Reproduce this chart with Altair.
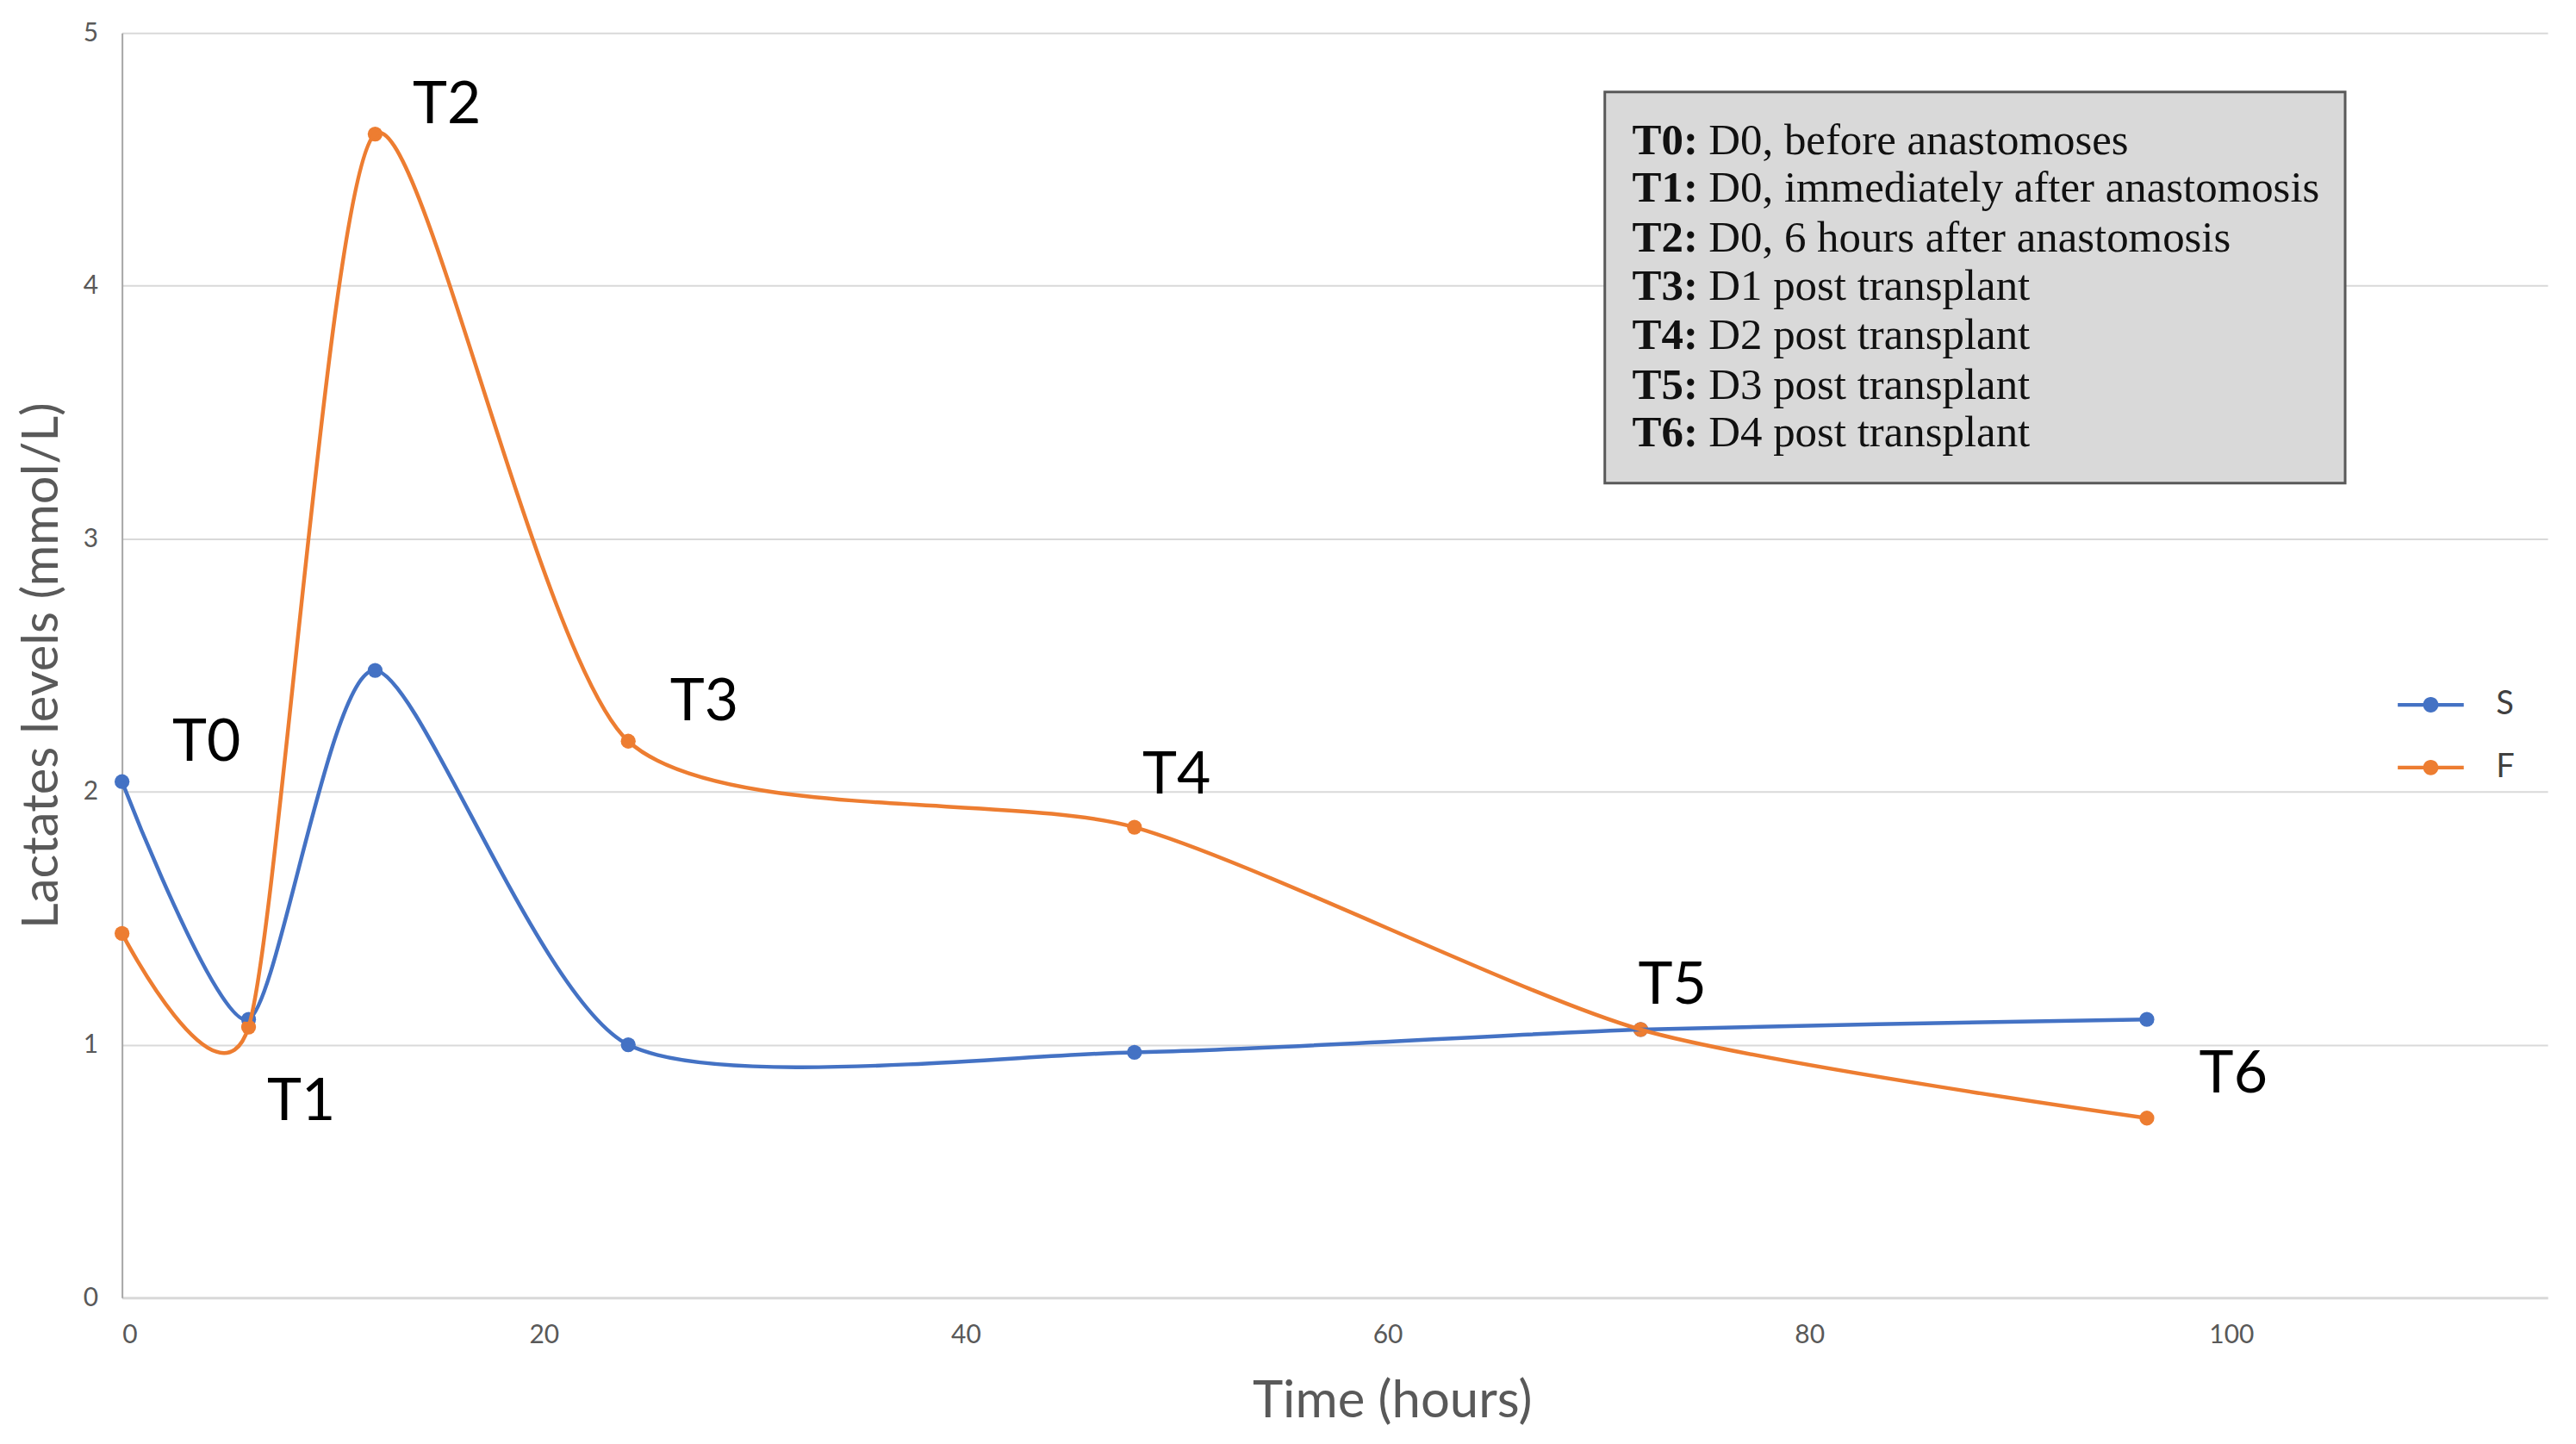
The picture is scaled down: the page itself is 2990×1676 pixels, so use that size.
import altair as alt
import pandas as pd

# ---- data ----
hours = [0, 6, 12, 24, 48, 72, 96]
s_vals = [2.04, 1.10, 2.48, 1.00, 0.97, 1.06, 1.10]
f_vals = [1.44, 1.07, 4.60, 2.20, 1.86, 1.06, 0.71]
series_names = ["S", "F"]
series_colors = ["#4472C4", "#ED7D31"]

x_ticks = [0, 20, 40, 60, 80, 100]
y_ticks = [0, 1, 2, 3, 4, 5]

# point annotations (T0..T6)
ann_text = ["T0", "T1", "T2", "T3", "T4", "T5", "T6"]
ann_x = [4.0, 8.5, 15.4, 27.6, 50.0, 73.5, 100.1]
ann_y = [2.19, 0.77, 4.71, 2.35, 2.06, 1.23, 0.88]

# text box contents
box_prefix = ["T0:", "T1:", "T2:", "T3:", "T4:", "T5:", "T6:"]
box_rest = [
    "D0, before anastomoses",
    "D0, immediately after anastomosis",
    "D0, 6 hours after anastomosis",
    "D1 post transplant",
    "D2 post transplant",
    "D3 post transplant",
    "D4 post transplant",
]
box_line_y = [4.570, 4.383, 4.186, 3.996, 3.802, 3.605, 3.418]
box_text_x = 71.6
box_x = [70.3, 105.4]
box_y = [3.22, 4.766]

# ---- tables ----
df = pd.DataFrame({
    "hours": hours * 2,
    "value": s_vals + f_vals,
    "series": [series_names[0]] * len(hours) + [series_names[1]] * len(hours),
})
ann_df = pd.DataFrame({"hours": ann_x, "value": ann_y, "label": ann_text})
box_df = pd.DataFrame({"hours": [box_x[0]], "hours2": [box_x[1]],
                       "value": [box_y[0]], "value2": [box_y[1]]})
txt_df = pd.DataFrame({"hours": [box_text_x] * len(box_prefix), "value": box_line_y,
                       "prefix": box_prefix, "rest": box_rest})

x_scale = alt.Scale(domain=[0, 115], nice=False, zero=False)
y_scale = alt.Scale(domain=[0, 5], nice=False)

x_axis = alt.Axis(values=x_ticks, title="Time (hours)", grid=False, tickSize=0,
                  labelPadding=28, titlePadding=34, titleX=1478, titleAlign="center",
                  titleFontSize=60, domainColor="#d9d9d9", domainWidth=3)
y_axis = alt.Axis(values=y_ticks, title="Lactates levels (mmol/L)", grid=True, tickSize=0,
                  labelPadding=28, titlePadding=18, titleFontSize=58,
                  domainColor="#a6a6a6", domainWidth=2,
                  gridColor="#d9d9d9", gridWidth=2)


def X():
    return alt.X("hours:Q", scale=x_scale, axis=x_axis, title="Time (hours)")


def Y():
    return alt.Y("value:Q", scale=y_scale, axis=y_axis, title="Lactates levels (mmol/L)")


color_scale = alt.Scale(domain=series_names, range=series_colors)

legend_path = ("M -1.2 -0.065 L 1.2 -0.065 L 1.2 0.065 L -1.2 0.065 Z "
               "M 0.28 0 A 0.28 0.28 0 1 1 -0.28 0 A 0.28 0.28 0 1 1 0.28 0 Z")

legend = alt.Legend(
    orient="none", legendX=2655, legendY=750, title=None,
    symbolType=legend_path, symbolSize=4096, symbolStrokeWidth=0,
    labelFont="Lato", labelFontSize=38, labelColor="#404040",
    labelOffset=44, rowPadding=22, padding=0,
)

lines = alt.Chart(df).mark_line(interpolate="cardinal", tension=0.3, strokeWidth=4.5).encode(
    x=X(), y=Y(),
    color=alt.Color("series:N", scale=color_scale, sort=series_names))

points = alt.Chart(df).mark_point(filled=True, size=300, opacity=1).encode(
    x=X(), y=Y(),
    color=alt.Color("series:N", scale=color_scale, sort=series_names, legend=legend))

box = alt.Chart(box_df).mark_rect(fill="#d9d9d9", stroke="#595959", strokeWidth=3).encode(
    x=X(), x2="hours2:Q", y=Y(), y2="value2:Q")

ann = alt.Chart(ann_df).mark_text(font="Lato", fontSize=68, color="#000000",
                                  align="center", baseline="middle").encode(
    x=X(), y=Y(), text="label:N")

pref = alt.Chart(txt_df).mark_text(font="Liberation Serif", fontSize=51, fontWeight="bold",
                                   color="#111111", align="left", baseline="middle").encode(
    x=X(), y=Y(), text="prefix:N")

rest = alt.Chart(txt_df).mark_text(font="Liberation Serif", fontSize=51, color="#111111",
                                   align="left", baseline="middle", dx=89).encode(
    x=X(), y=Y(), text="rest:N")

chart = alt.layer(points, lines, box, ann, pref, rest).properties(
    width=2823, height=1472,
    autosize=alt.AutoSizeParams(type="none"),
    padding={"left": 134, "top": 28, "right": 25, "bottom": 160},
    background="white",
).configure_view(stroke=None).configure_axis(
    labelFont="Lato", labelFontSize=30, labelColor="#595959",
    titleFont="Lato", titleColor="#595959", titleFontWeight="normal",
)

chart.save("out.html", embed_options={"renderer": "svg", "actions": False})
